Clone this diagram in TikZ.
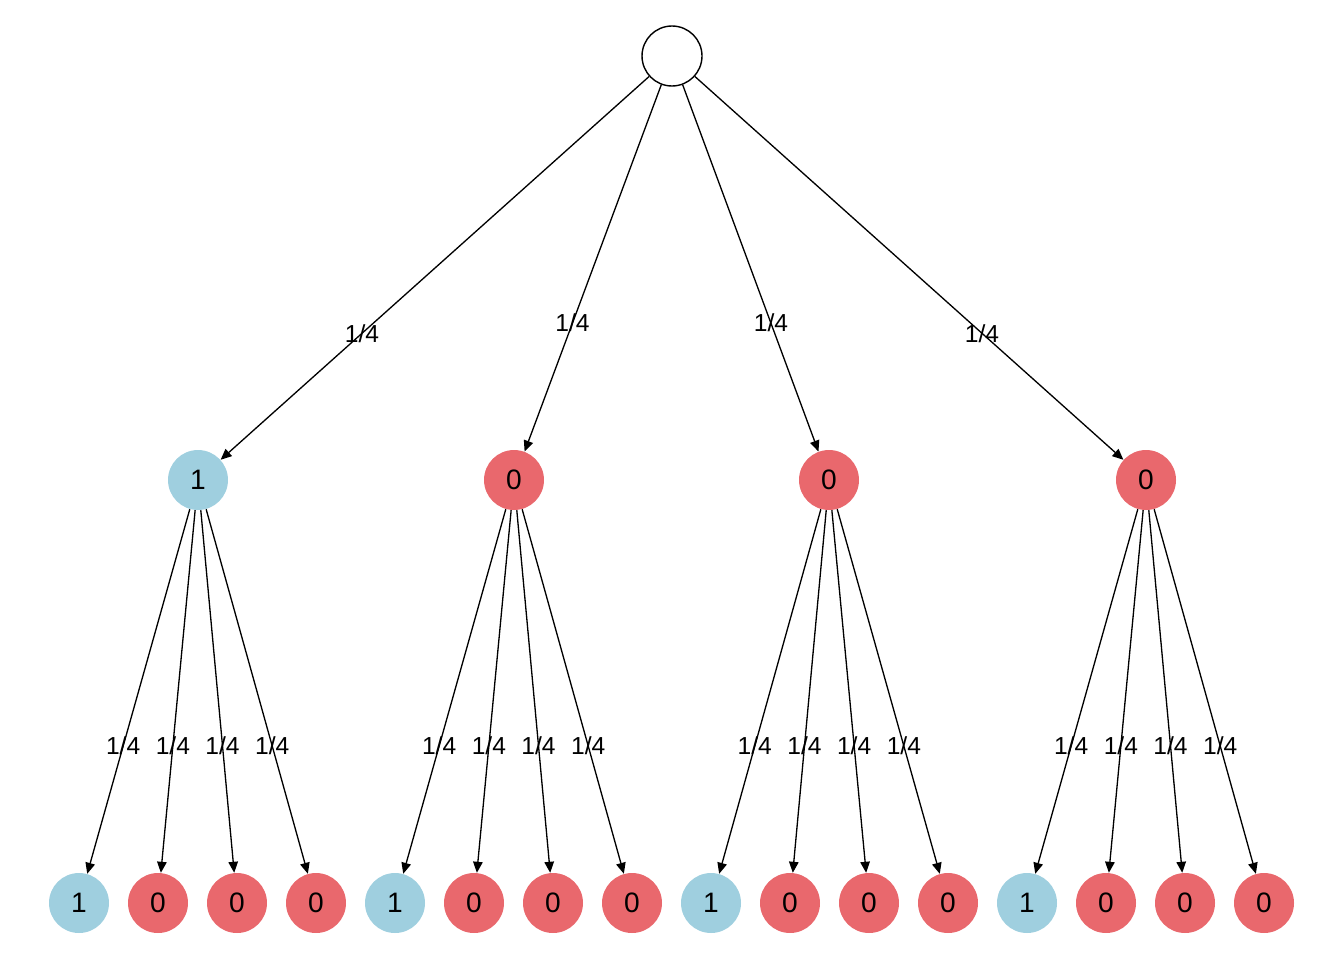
\documentclass[tikz,border=0pt]{standalone}
\usepackage{fontspec}
\setmainfont{Liberation Sans}
\usepackage{tikz}
\usetikzlibrary{arrows.meta,positioning}
\definecolor{bluenode}{HTML}{9FCFDF}
\definecolor{rednode}{HTML}{E9686D}
\tikzset{
  rnode/.style={circle,draw,line width=0.8pt,fill=white,minimum size=1.2cm,inner sep=0pt},
  onode/.style={circle,fill=bluenode,minimum size=1.2cm,inner sep=0pt,font=\fontsize{16}{18}\selectfont},
  znode/.style={circle,fill=rednode,minimum size=1.2cm,inner sep=0pt,font=\fontsize{16}{18}\selectfont},
  pe/.style={-{Triangle[length=2.2mm,width=1.9mm]},line width=0.75pt},
  pl/.style={pos=0.65,inner sep=0pt,font=\fontsize{14}{16}\selectfont}
}
\begin{document}
\begin{tikzpicture}[x=0.02cm,y=-0.02cm]
\useasboundingbox (0,0) rectangle (1344,960);
\node[rnode] (r) at (672,56) {};
\node[onode] (a) at (198,480) {1};
\node[znode] (b) at (514,480) {0};
\node[znode] (c) at (829,480) {0};
\node[znode] (d) at (1146,480) {0};
\node[onode] (a1) at (79,903) {1};
\node[znode] (a2) at (158,903) {0};
\node[znode] (a3) at (237,903) {0};
\node[znode] (a4) at (316,903) {0};
\node[onode] (b1) at (395,903) {1};
\node[znode] (b2) at (474,903) {0};
\node[znode] (b3) at (553,903) {0};
\node[znode] (b4) at (632,903) {0};
\node[onode] (c1) at (711,903) {1};
\node[znode] (c2) at (790,903) {0};
\node[znode] (c3) at (869,903) {0};
\node[znode] (c4) at (948,903) {0};
\node[onode] (d1) at (1027,903) {1};
\node[znode] (d2) at (1106,903) {0};
\node[znode] (d3) at (1185,903) {0};
\node[znode] (d4) at (1264,903) {0};
\draw[pe] (r) -- node[pl,pos=0.67] {1/4} (a);
\draw[pe] (r) -- node[pl] {1/4} (b);
\draw[pe] (r) -- node[pl] {1/4} (c);
\draw[pe] (r) -- node[pl,pos=0.67] {1/4} (d);
\draw[pe] (a) -- node[pl] {1/4} (a1);
\draw[pe] (a) -- node[pl] {1/4} (a2);
\draw[pe] (a) -- node[pl] {1/4} (a3);
\draw[pe] (a) -- node[pl] {1/4} (a4);
\draw[pe] (b) -- node[pl] {1/4} (b1);
\draw[pe] (b) -- node[pl] {1/4} (b2);
\draw[pe] (b) -- node[pl] {1/4} (b3);
\draw[pe] (b) -- node[pl] {1/4} (b4);
\draw[pe] (c) -- node[pl] {1/4} (c1);
\draw[pe] (c) -- node[pl] {1/4} (c2);
\draw[pe] (c) -- node[pl] {1/4} (c3);
\draw[pe] (c) -- node[pl] {1/4} (c4);
\draw[pe] (d) -- node[pl] {1/4} (d1);
\draw[pe] (d) -- node[pl] {1/4} (d2);
\draw[pe] (d) -- node[pl] {1/4} (d3);
\draw[pe] (d) -- node[pl] {1/4} (d4);
\end{tikzpicture}
\end{document}
